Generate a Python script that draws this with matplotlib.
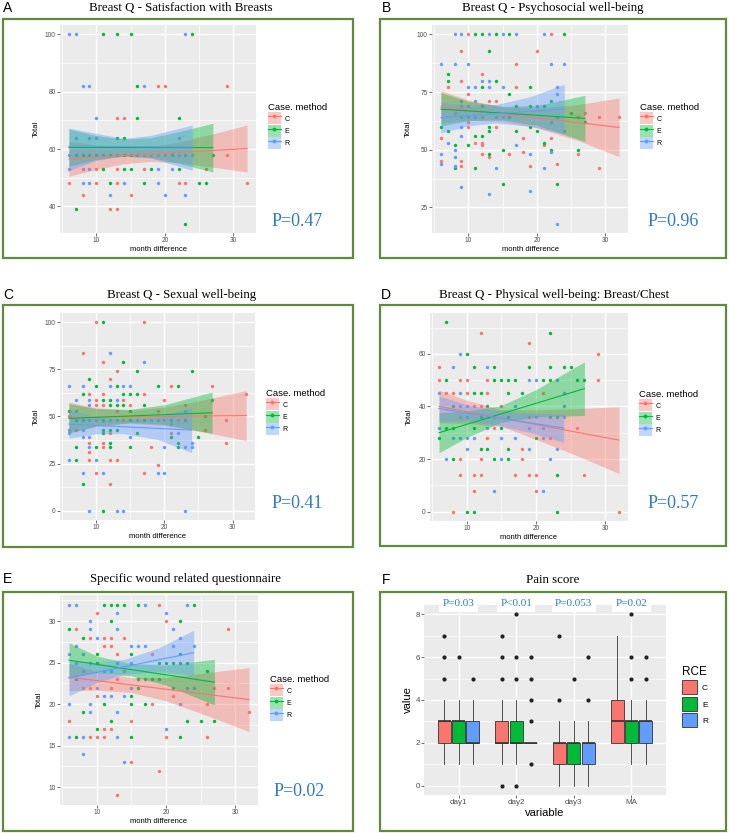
import matplotlib.pyplot as plt
from matplotlib.patches import Rectangle, Patch
from matplotlib.lines import Line2D

plt.rcParams['font.family'] = ['Liberation Sans', 'DejaVu Sans']

W, H = 729, 833
COLS = ['#F8766D', '#00BA38', '#619CFF']
GROUPS = ['C', 'E', 'R']
FRAME = '#5E8B3E'
PBLUE = '#2E7BC4'

# ---------------- data ----------------
# A  Satisfaction with Breasts  (month difference, Total)
A_C = [(13, 71), (14, 71), (19, 82), (20, 82), (29, 82), (17, 58), (18, 58), (19, 58), (20, 58), (29, 58),
       (10, 53), (13, 53), (17, 53), (26, 53), (6, 48), (10, 48), (13, 48), (22, 48), (23, 48), (32, 48),
       (8, 44), (15, 44), (12, 39), (13, 39)]
A_E = [(11, 100), (13, 100), (15, 100), (24, 100), (16, 82), (16, 71), (22, 71), (13, 64), (14, 64),
       (7, 58), (8, 58), (9, 58), (10, 58), (11, 58), (12, 58), (13, 58), (14, 58), (15, 58), (16, 58),
       (21, 58), (23, 58), (27, 58), (11, 53), (14, 53), (15, 53), (18, 53), (22, 53), (12, 48), (17, 48),
       (25, 48), (26, 48), (7, 39), (23, 34)]
A_R = [(6, 100), (7, 100), (23, 100), (8, 82), (9, 82), (17, 82), (10, 71), (7, 64), (9, 64), (10, 64),
       (22, 64), (6, 58), (22, 58), (24, 58), (6, 53), (8, 53), (9, 53), (19, 53), (21, 53), (8, 48),
       (9, 48), (14, 48), (19, 48), (12, 44), (20, 44), (23, 44)]
# fitted line ends and confidence band (x, lower, upper)
A_C_fit = [(6, 56.6), (32, 60.2)]
A_C_band = [[6, 10, 14, 18, 22, 27, 32], [50.5, 52.9, 54.9, 55.7, 55.2, 53.7, 52.0], [62.7, 61.4, 60.5, 60.8, 62.4, 65.3, 68.4]]
A_E_fit = [(6, 60.6), (27, 60.5)]
A_E_band = [[6, 10, 14, 18, 22, 27], [54.0, 56.3, 57.5, 57.0, 55.0, 52.0], [67.0, 64.7, 63.5, 64.0, 66.0, 69.0]]
A_R_fit = [(6, 61.0), (24, 60.7)]
A_R_band = [[6, 10, 14, 18, 24], [52.5, 56.0, 57.8, 56.8, 52.6], [67.3, 65.5, 63.7, 64.8, 68.4]]

# B  Psychosocial well-being
B_C = [(10, 100), (22, 100), (9, 93), (20, 93), (17, 87), (12, 83), (9, 80), (7, 77), (17, 77), (10, 74),
       (13, 71), (14, 71), (8, 66), (26, 64), (29, 64), (32, 64), (27, 66), (10, 62), (10, 60), (14, 60),
       (6, 55), (18, 55), (22, 55), (11, 53), (12, 53), (12, 52), (21, 52), (18, 49), (12, 48), (16, 48),
       (26, 48), (13, 47), (6, 45), (9, 45), (23, 44), (9, 43), (19, 43), (29, 42), (20, 69), (12, 64)]
B_E = [(11, 100), (12, 100), (14, 100), (16, 100), (24, 100), (13, 93), (7, 83), (7, 80), (14, 80),
       (12, 77), (19, 77), (16, 74), (22, 71), (12, 69), (17, 69), (19, 69), (21, 69), (25, 66), (23, 64),
       (27, 62), (6, 60), (13, 60), (7, 58), (13, 58), (17, 58), (20, 58), (11, 56), (12, 56), (21, 53),
       (8, 52), (10, 52), (15, 50), (22, 50), (26, 50), (13, 48), (8, 42), (11, 42), (15, 35), (23, 35),
       (16, 64), (19, 60)]
B_R = [(8, 100), (9, 100), (13, 100), (15, 100), (17, 100), (21, 100), (6, 87), (8, 87), (10, 87),
       (22, 87), (24, 87), (12, 80), (13, 80), (10, 77), (11, 77), (13, 77), (15, 77), (23, 77), (9, 71),
       (11, 71), (23, 74), (9, 69), (10, 69), (20, 69), (9, 64), (10, 64), (11, 64), (14, 64), (15, 64),
       (9, 60), (9, 56), (7, 53), (22, 49), (8, 50), (6, 48), (17, 52), (19, 48), (8, 47), (6, 44), (8, 43),
       (14, 42), (21, 42), (9, 34), (19, 32), (13, 31), (23, 18), (24, 58), (22, 62)]
B_C_fit = [(6, 68.6), (32, 59.7)]
B_C_band = [[6, 10, 15, 20, 26, 32], [61.5, 62.8, 62.3, 59.5, 54.0, 47.0], [75.7, 71.6, 68.7, 68.1, 69.6, 72.4]]
B_E_fit = [(6, 67.6), (27, 63.6)]
B_E_band = [[6, 10, 15, 20, 27], [60.4, 62.6, 63.0, 60.6, 53.6], [74.8, 71.0, 68.8, 69.2, 73.6]]
B_R_fit = [(6, 64.0), (24, 67.6)]
B_R_band = [[6, 10, 14, 19, 24], [57.3, 60.4, 61.6, 60.2, 56.8], [70.7, 69.2, 69.6, 73.0, 78.4]]

# C  Sexual well-being
C_C = [(10, 100), (17, 100), (8, 84), (11, 79), (13, 74), (12, 70), (21, 66), (27, 66), (9, 62), (11, 62),
       (17, 62), (32, 62), (10, 59), (14, 59), (20, 59), (10, 56), (11, 56), (15, 56), (23, 56), (19, 53),
       (6, 50), (29, 48), (10, 48), (20, 48), (22, 48), (7, 43), (26, 43), (12, 41), (21, 41), (9, 36),
       (11, 36), (29, 36), (11, 34), (18, 34), (9, 31), (9, 27), (12, 27), (13, 27), (19, 24), (10, 20),
       (17, 20), (12, 14), (14, 48), (13, 53)]
C_E = [(11, 100), (14, 79), (16, 74), (24, 74), (9, 70), (10, 66), (13, 66), (19, 66), (22, 66), (8, 62),
       (14, 62), (15, 62), (16, 62), (11, 59), (12, 59), (27, 59), (12, 56), (13, 56), (14, 56), (17, 56),
       (6, 53), (15, 53), (26, 50), (7, 48), (8, 48), (11, 48), (15, 48), (17, 48), (21, 48), (23, 48),
       (11, 43), (12, 43), (13, 43), (11, 41), (16, 41), (21, 39), (25, 39), (12, 36), (22, 36), (7, 34),
       (10, 34), (12, 34), (15, 34), (22, 34), (7, 27), (8, 14), (11, 0)]
C_R = [(12, 84), (17, 79), (6, 66), (8, 66), (12, 66), (14, 66), (15, 66), (7, 59), (9, 59), (13, 59),
       (9, 56), (7, 53), (23, 53), (9, 48), (12, 48), (13, 48), (16, 48), (18, 48), (19, 48), (6, 43),
       (8, 43), (6, 41), (22, 41), (8, 39), (9, 39), (15, 39), (24, 36), (9, 34), (20, 34), (23, 34),
       (24, 34), (6, 27), (10, 27), (8, 20), (11, 20), (19, 20), (20, 20), (9, 0), (13, 0), (14, 0),
       (23, 0), (21, 46)]
C_C_fit = [(6, 49.5), (32, 50.5)]
C_C_band = [[6, 10, 15, 20, 26, 32], [41.4, 44.6, 46.4, 45.2, 41.6, 37.2], [57.6, 54.7, 53.3, 54.9, 59.0, 63.8]]
C_E_fit = [(6, 49.0), (27, 52.0)]
C_E_band = [[6, 10, 15, 20, 27], [41.2, 45.0, 46.8, 45.8, 41.0], [56.8, 54.2, 53.8, 56.2, 63.0]]
C_R_fit = [(6, 46.0), (24, 42.8)]
C_R_band = [[6, 10, 14, 19, 24], [38.5, 40.8, 40.9, 37.8, 30.8], [53.5, 49.8, 48.3, 49.6, 54.8]]

# D  Physical well-being: Breast/Chest
D_C = [(12, 68), (19, 64), (29, 60), (6, 55), (6, 50), (9, 50), (10, 50), (13, 50), (29, 50), (7, 45),
       (8, 45), (10, 45), (13, 45), (21, 45), (11, 40), (12, 40), (15, 40), (9, 36), (26, 32), (13, 28),
       (22, 28), (18, 24), (9, 20), (12, 20), (18, 20), (9, 14), (11, 14), (12, 14), (17, 14), (19, 14),
       (20, 14), (27, 14), (11, 8), (20, 8), (8, 0), (32, 0), (19, 36), (14, 32)]
D_E = [(7, 72), (22, 68), (10, 60), (11, 55), (14, 55), (19, 55), (22, 55), (24, 55), (25, 55), (7, 50),
       (14, 50), (15, 50), (16, 50), (17, 50), (21, 50), (22, 50), (26, 50), (27, 50), (11, 45), (12, 45),
       (16, 45), (18, 45), (8, 40), (13, 40), (22, 36), (23, 36), (16, 36), (7, 32), (8, 32), (11, 32),
       (15, 32), (6, 28), (20, 28), (12, 24), (13, 24), (16, 24), (8, 20), (14, 20), (16, 20), (23, 14),
       (10, 0), (11, 0), (23, 0), (12, 36)]
D_R = [(9, 60), (8, 55), (13, 55), (19, 50), (20, 50), (23, 50), (6, 45), (9, 45), (24, 45), (9, 40),
       (10, 40), (17, 40), (24, 40), (20, 36), (24, 36), (10, 36), (6, 32), (13, 32), (19, 32), (21, 32),
       (8, 28), (9, 28), (10, 28), (11, 28), (15, 28), (17, 28), (21, 28), (10, 24), (19, 24), (23, 24),
       (7, 20), (15, 20), (22, 20), (14, 8), (21, 8), (14, 36)]
D_C_fit = [(6, 40.0), (32, 27.2)]
D_C_band = [[6, 10, 15, 20, 26, 32], [33.8, 33.6, 32.4, 27.5, 21.2, 14.5], [46.2, 42.4, 38.8, 38.7, 39.2, 39.9]]
D_E_fit = [(6, 30.0), (27, 46.8)]
D_E_band = [[6, 10, 15, 20, 27], [22.4, 28.2, 34.0, 36.0, 36.6], [37.6, 38.2, 40.4, 46.4, 57.0]]
D_R_fit = [(6, 39.2), (24, 31.8)]
D_R_band = [[6, 10, 14, 19, 24], [34.4, 34.5, 33.1, 30.2, 26.4], [44.0, 40.7, 38.7, 37.4, 37.2]]

# E  Specific wound related questionnaire
E_C = [(19, 32), (10, 31), (20, 30), (7, 29), (29, 29), (9, 28), (11, 28), (12, 28), (14, 28), (11, 27),
       (12, 27), (13, 26), (18, 26), (8, 22), (9, 22), (12, 22), (15, 22), (27, 22), (29, 22), (10, 21),
       (21, 21), (18, 20), (26, 20), (32, 19), (6, 18), (15, 18), (11, 17), (12, 17), (9, 16), (10, 16),
       (11, 16), (20, 16), (26, 16), (15, 13), (19, 12), (13, 9), (10, 25), (14, 24), (16, 23), (13, 23),
       (7, 23)]
E_E = [(11, 32), (12, 32), (13, 32), (14, 32), (16, 32), (24, 32), (12, 30), (22, 30), (6, 29), (8, 28),
       (10, 26), (15, 26), (22, 26), (19, 25), (20, 25), (21, 25), (22, 25), (23, 25), (26, 24), (7, 23),
       (16, 23), (17, 23), (18, 23), (19, 23), (16, 22), (21, 22), (15, 21), (11, 20), (15, 20), (17, 20),
       (8, 19), (12, 18), (23, 18), (25, 18), (27, 18), (10, 17), (7, 16), (15, 16), (22, 16), (12, 24),
       (10, 25)]
E_R = [(6, 32), (7, 32), (17, 32), (23, 32), (13, 31), (20, 31), (9, 30), (9, 29), (13, 29), (21, 29),
       (10, 28), (22, 28), (7, 27), (15, 27), (16, 27), (17, 27), (21, 27), (24, 27), (6, 26), (8, 26),
       (7, 25), (9, 25), (13, 25), (15, 25), (8, 24), (11, 24), (10, 22), (15, 22), (23, 22), (24, 22),
       (11, 21), (12, 21), (14, 21), (6, 20), (9, 20), (22, 20), (9, 19), (13, 19), (20, 17), (6, 16),
       (8, 16), (13, 16), (8, 14), (14, 13), (12, 24)]
E_C_fit = [(6, 23.25), (32, 20.55)]
E_C_band = [[6, 10, 15, 20, 26, 32], [21.6, 21.7, 21.4, 20.4, 18.6, 16.7], [24.9, 23.9, 23.2, 23.2, 23.8, 24.4]]
E_E_fit = [(6, 25.3), (27, 22.65)]
E_E_band = [[6, 10, 15, 20, 27], [23.2, 23.8, 23.4, 22.3, 19.9], [27.4, 25.8, 24.9, 24.7, 25.4]]
E_R_fit = [(6, 23.15), (24, 26.2)]
E_R_band = [[6, 10, 14, 19, 24], [21.0, 22.6, 23.6, 23.9, 23.5], [25.3, 25.0, 25.4, 26.8, 28.9]]

# F  Pain score boxplots, per RCE group and day
F_days = ['day1', 'day2', 'day3', 'MA']
F_pvals = ['P=0.03', 'P<0.01', 'P=0.053', 'P=0.02']
F_C_q1 = [2, 2, 1, 2]
F_C_med = [3, 2, 2, 3]
F_C_q3 = [3, 3, 2, 4]
F_C_lo = [1, 1, 0, 2]
F_C_hi = [4, 4, 3, 7]
F_C_out = [[5, 6, 7], [0, 5, 6, 7], [4, 7], []]
F_E_q1 = [2, 2, 1, 2]
F_E_med = [3, 2, 2, 3]
F_E_q3 = [3, 3, 2, 3]
F_E_lo = [1, 1, 0, 1]
F_E_hi = [4, 4, 3, 4]
F_E_out = [[6], [0, 5, 6, 8], [5], [5, 6, 8]]
F_R_q1 = [2, 2, 1, 2]
F_R_med = [2, 2, 2, 3]
F_R_q3 = [3, 2, 2, 3]
F_R_lo = [1, 2, 0, 1]
F_R_hi = [4, 2, 3, 4]
F_R_out = [[5], [1, 3, 4, 5, 6], [4, 6], [5, 6]]

# ---------------- drawing ----------------
fig = plt.figure(figsize=(W / 100, H / 100), dpi=100)


def fx(x):
    return x / W


def fy(y):
    return 1 - y / H


def rect(x0, y0, x1, y1):
    return [fx(x0), fy(y1), (x1 - x0) / W, (y1 - y0) / H]


def frame(x0, y0, x1, y1):
    fig.add_artist(Rectangle((fx(x0), fy(y1)), (x1 - x0) / W, (y1 - y0) / H, fill=False,
                             ec=FRAME, lw=1.6, transform=fig.transFigure))


def heading(letter, title, lx, tx, y):
    fig.text(fx(lx), fy(y), letter, fontsize=10, ha='left', va='center')
    fig.text(fx(tx), fy(y), title, fontsize=9.3, family='Liberation Serif', ha='center', va='center')


def gg_style(ax, labelsize=4.7):
    ax.set_facecolor('#EBEBEB')
    for s in ax.spines.values():
        s.set_visible(False)
    ax.set_axisbelow(True)
    ax.grid(True, which='major', color='white', lw=1.0)
    ax.grid(True, which='minor', color='white', lw=0.5)
    ax.tick_params(which='major', length=2, width=0.5, color='#333333',
                   labelsize=labelsize, labelcolor='#4D4D4D', pad=1)
    ax.tick_params(which='minor', length=0)


def scatter_panel(box, pts, fits, bands, ylim, yticks, yminor, leg_xy, ptxt, pxy):
    ax = fig.add_axes(rect(*box))
    gg_style(ax)
    for p, col in zip(pts, COLS):
        xs = [a for a, b in p]
        ys = [b for a, b in p]
        ax.scatter(xs, ys, s=6, color=col, lw=0, zorder=3)
    for f, b, col in zip(fits, bands, COLS):
        ax.fill_between(b[0], b[1], b[2], color=col, alpha=0.4, lw=0, zorder=4)
        ax.plot([f[0][0], f[1][0]], [f[0][1], f[1][1]], color=col, lw=0.8, zorder=5)
    ax.set_xlim(4.7, 33.3)
    ax.set_ylim(*ylim)
    ax.set_xticks([10, 20, 30])
    ax.set_xticks([5, 15, 25], minor=True)
    ax.set_yticks(yticks)
    ax.set_yticks(yminor, minor=True)
    ax.set_xlabel('month difference', fontsize=5.5, labelpad=1.5)
    ax.set_ylabel('Total', fontsize=5.5, labelpad=4)
    handles = [(Patch(fc=col, alpha=0.4, lw=0),
                Line2D([], [], color=col, lw=0.8, marker='o', markersize=1.8)) for col in COLS]
    fig.legend(handles, GROUPS, loc='upper left', bbox_to_anchor=(fx(leg_xy[0]), fy(leg_xy[1])),
               frameon=False, title='Case. method', fontsize=5, title_fontsize=6.8,
               handlelength=1.8, handleheight=2.3, labelspacing=0.05, handletextpad=0.6,
               borderpad=0, borderaxespad=0, alignment='left')
    fig.text(fx(pxy[0]), fy(pxy[1]), ptxt, family='Liberation Serif', fontsize=13,
             color=PBLUE, ha='left', va='center')
    return ax


# frames
frame(3, 19, 353, 258)
frame(380, 19, 726, 258)
frame(3, 305, 353, 547)
frame(380, 305, 726, 546)
frame(3, 592, 353, 831)
frame(380, 592, 726, 831)

heading('A', 'Breast Q - Satisfaction with Breasts', 3, 181, 8)
heading('B', 'Breast Q - Psychosocial well-being', 382, 553, 8)
heading('C', 'Breast Q - Sexual well-being', 3, 182, 295)
heading('D', 'Breast Q - Physical well-being: Breast/Chest', 381, 554, 295)
heading('E', 'Specific wound related questionnaire', 3, 186, 579)
heading('F', 'Pain score', 382, 553, 580)

scatter_panel((60, 25, 256, 233), [A_C, A_E, A_R], [A_C_fit, A_E_fit, A_R_fit],
              [A_C_band, A_E_band, A_R_band], (30.7, 103.3), [40, 60, 80, 100], [50, 70, 90],
              (268, 103), 'P=0.47', (272, 222))
scatter_panel((432, 25, 628, 233), [B_C, B_E, B_R], [B_C_fit, B_E_fit, B_R_fit],
              [B_C_band, B_E_band, B_R_band], (13.9, 104.1), [25, 50, 75, 100], [37.5, 62.5, 87.5],
              (640, 103), 'P=0.96', (648, 222))
scatter_panel((60, 313, 255, 520), [C_C, C_E, C_R], [C_C_fit, C_E_fit, C_R_fit],
              [C_C_band, C_E_band, C_R_band], (-5, 105), [0, 25, 50, 75, 100], [12.5, 37.5, 62.5, 87.5],
              (266, 389), 'P=0.41', (272, 503))
scatter_panel((430, 313, 628, 521), [D_C, D_E, D_R], [D_C_fit, D_E_fit, D_R_fit],
              [D_C_band, D_E_band, D_R_band], (-3.6, 75.6), [0, 20, 40, 60], [10, 30, 50, 70],
              (639, 390), 'P=0.57', (648, 503))
scatter_panel((60, 595, 258, 805), [E_C, E_E, E_R], [E_C_fit, E_E_fit, E_R_fit],
              [E_C_band, E_E_band, E_R_band], (7.85, 33.15), [10, 15, 20, 25, 30],
              [12.5, 17.5, 22.5, 27.5, 32.5], (270, 675), 'P=0.02', (274, 791))

# F boxplot
axf = fig.add_axes(rect(424, 605, 666, 795))
gg_style(axf, labelsize=5.8)
stats_sets = [(F_C_q1, F_C_med, F_C_q3, F_C_lo, F_C_hi, F_C_out),
              (F_E_q1, F_E_med, F_E_q3, F_E_lo, F_E_hi, F_E_out),
              (F_R_q1, F_R_med, F_R_q3, F_R_lo, F_R_hi, F_R_out)]
for g, (q1, med, q3, lo, hi, out) in enumerate(stats_sets):
    stats = [dict(q1=q1[i], med=med[i], q3=q3[i], whislo=lo[i], whishi=hi[i], fliers=out[i])
             for i in range(len(F_days))]
    pos = [i + 1 + (g - 1) * 0.25 for i in range(len(F_days))]
    axf.bxp(stats, positions=pos, widths=0.225, patch_artist=True, showcaps=False,
            boxprops=dict(facecolor=COLS[g], edgecolor='#333333', lw=0.6),
            medianprops=dict(color='#333333', lw=1.2),
            whiskerprops=dict(color='#333333', lw=0.6),
            flierprops=dict(marker='o', markersize=3, markerfacecolor='#222222',
                            markeredgecolor='none'),
            manage_ticks=False, zorder=3)
axf.set_xlim(0.4, 4.6)
axf.set_ylim(-0.42, 8.42)
axf.set_xticks(range(1, len(F_days) + 1))
axf.set_xticklabels(F_days)
axf.set_yticks([0, 2, 4, 6, 8])
axf.set_yticks([1, 3, 5, 7], minor=True)
axf.set_xlabel('variable', fontsize=8, labelpad=1)
axf.set_ylabel('value', fontsize=8, labelpad=2)
for i, t in enumerate(F_pvals):
    axf.text(i + 1, 8.47, t, family='Liberation Serif', fontsize=8, color=PBLUE,
             ha='center', va='center', clip_on=False, zorder=6,
             bbox=dict(facecolor='white', edgecolor='none', boxstyle='square,pad=0.3'))
fh = [Patch(fc=c, ec='#333333', lw=0.6) for c in COLS]
fig.legend(fh, GROUPS, loc='upper left', bbox_to_anchor=(fx(682), fy(666)), frameon=False,
           title='RCE', fontsize=6, title_fontsize=8.5, handlelength=1.8, handleheight=2.2,
           labelspacing=0.3, handletextpad=0.6, borderpad=0, borderaxespad=0, alignment='left')

fig.savefig('out.png', dpi=100)
